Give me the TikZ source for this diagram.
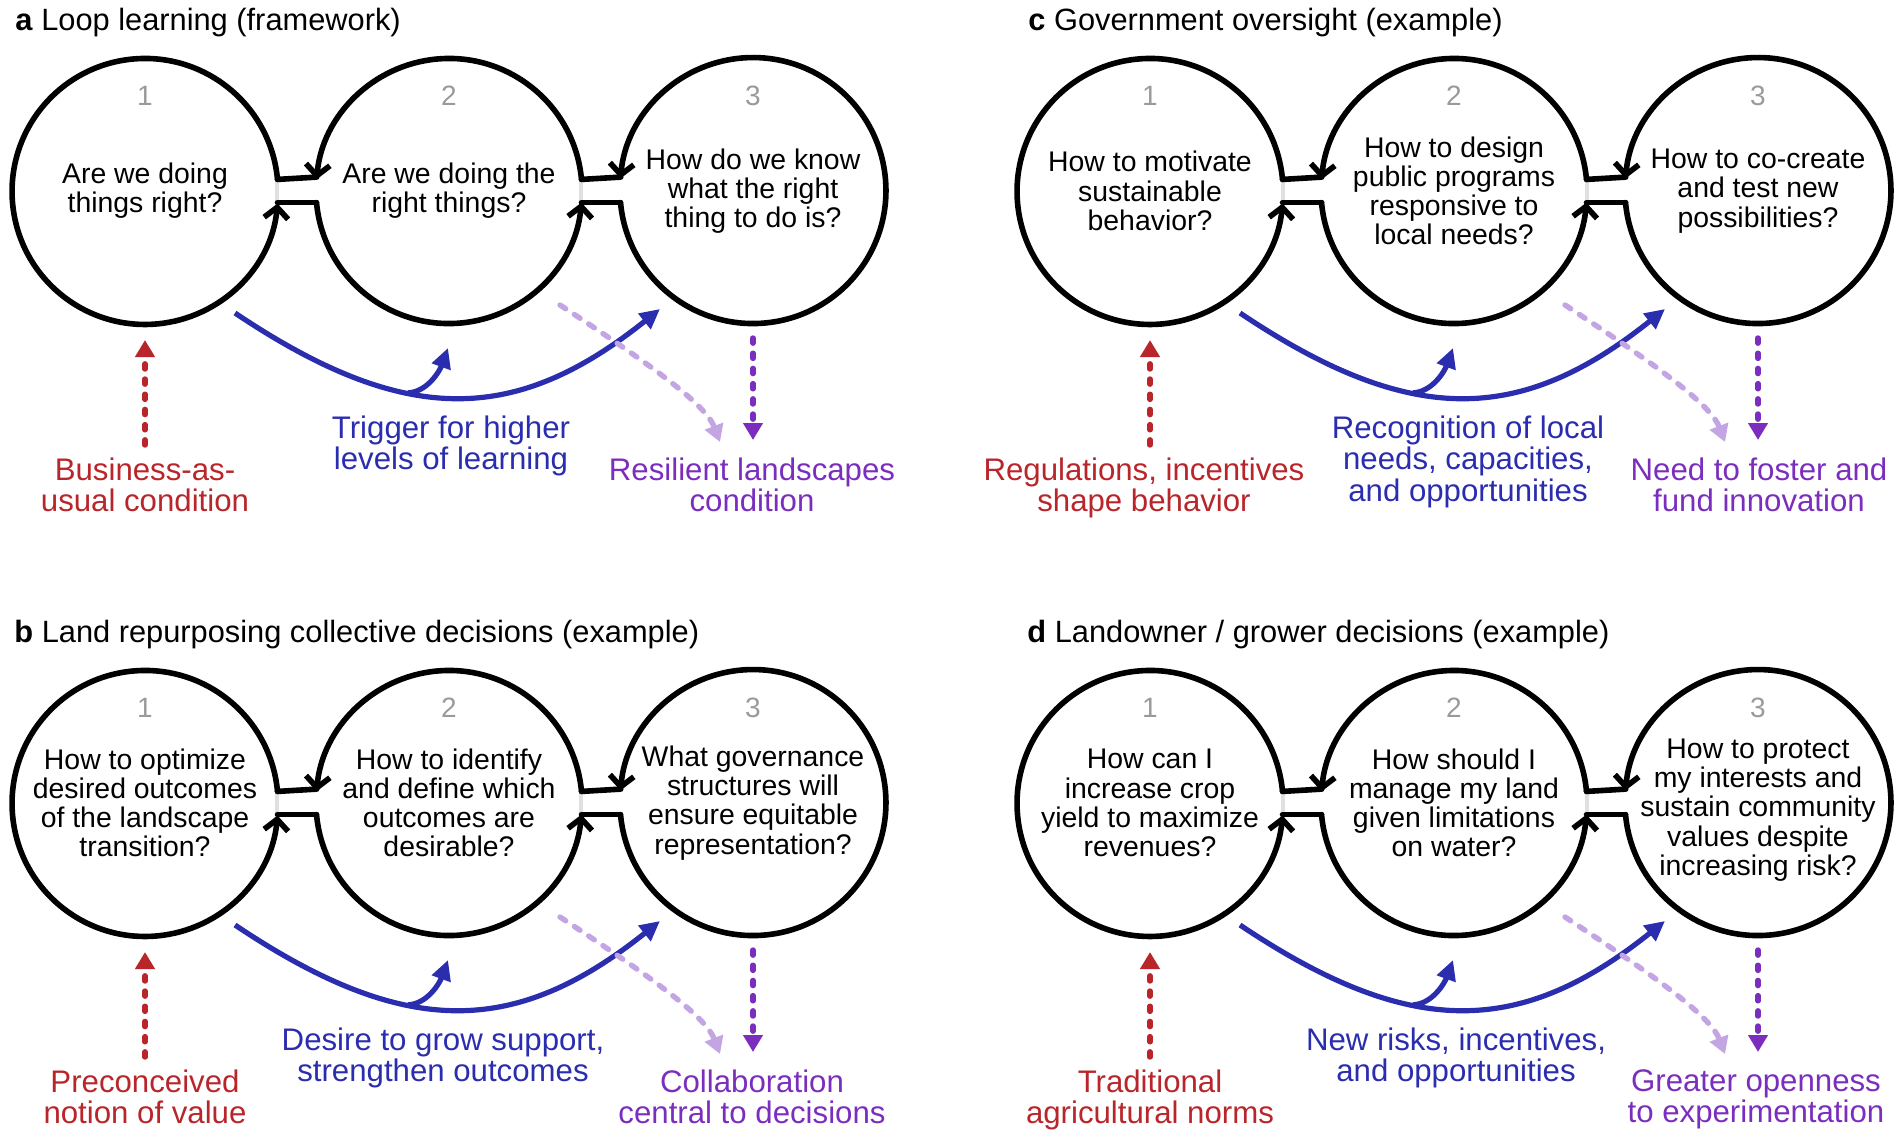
\documentclass[tikz,border=0pt]{standalone}
\usepackage{fontspec}
\setmainfont{Liberation Sans}
\usetikzlibrary{arrows.meta}

\definecolor{cuered}{HTML}{B8262B}
\definecolor{cueblue}{HTML}{2B2DAF}
\definecolor{cuepurple}{HTML}{7B2EBE}
\definecolor{cuelilac}{HTML}{C3A5E3}
\definecolor{numgray}{HTML}{9A9A9A}

\tikzset{
  ring/.style={circle, minimum size=133pt, inner sep=0pt, outer sep=0pt},
  ringline/.style={line width=2.8pt, black, line cap=round},
  necktip/.style={-{Straight Barb[length=5.5pt,width=12pt]}},
  gapline/.style={line width=2pt, black!12},
  stepnum/.style={text=numgray, font=\fontsize{14}{16}\selectfont, inner sep=0pt},
  question/.style={align=center, font=\fontsize{14.2}{14.6}\selectfont, inner sep=0pt},
  cue/.style={anchor=north, align=center, font=\fontsize{15.6}{15.8}\selectfont, inner sep=0pt},
  redlabel/.style={cue, text=cuered},
  bluelabel/.style={cue, text=cueblue},
  purplelabel/.style={cue, text=cuepurple},
  paneltitle/.style={anchor=west, font=\fontsize{15.4}{18}\selectfont, inner sep=0pt},
  trigger/.style={line width=2.6pt, cueblue, -{Triangle[length=10pt,width=9.5pt]}},
  dashcue/.style={line width=2.7pt, dash pattern=on 2.6pt off 5pt, line cap=round, -{Triangle[length=8.5pt,width=9.5pt]}},
}

% three linked rings, numbers and the blue / lilac arrows of one panel
\newcommand{\loopframe}[1]{%
  \node[ring] (#1-1) at (0,0) {};
  \node[ring] (#1-2) at (304,0) {};
  \node[ring] (#1-3) at (608,0) {};
  \foreach \i/\x in {1/0,2/304,3/608}
    \node[stepnum] (#1-n\i) at (\x,95) {\i};
  % light gaps at the necks
  \draw[gapline] (#1-1.5.2) -- (#1-1.-5.2);
  \draw[gapline] (#1-2.5.2) -- (#1-2.-5.2);
  % rings
  \draw[ringline,necktip] (#1-1.5.2) arc[start angle=5.2, end angle=354.8, radius=133];
  \draw[ringline,necktip] (#1-2.5.2) arc[start angle=5.2, end angle=174.8, radius=133];
  \draw[ringline,necktip] (#1-2.185.2) arc[start angle=185.2, end angle=354.8, radius=133];
  \draw[ringline,necktip] (#1-3.185.2) arc[start angle=185.2, end angle=534.8, radius=133];
  % necks
  \draw[ringline] (#1-1.5.2) -- (#1-2.174.8);
  \draw[ringline] (#1-1.-5.2) -- (#1-2.185.2);
  \draw[ringline] (#1-2.5.2) -- (#1-3.174.8);
  \draw[ringline] (#1-2.-5.2) -- (#1-3.185.2);
  % trigger arrows
  \coordinate (#1-bs) at (90,-122);
  \coordinate (#1-be) at (515,-118);
  \coordinate (#1-bt) at (303,-157);
  \draw[trigger] (#1-bs) .. controls (260,-236) and (370,-234) .. (#1-be)
    coordinate[pos=0.38] (#1-fork);
  \draw[trigger] (#1-fork) .. controls +(20,1) and +(-8,-22) .. (#1-bt);
  % lilac arrow
  \coordinate (#1-ls) at (415,-114);
  \coordinate (#1-le) at (575,-251);
  \draw[dashcue, cuelilac, dash pattern=on 3.4pt off 5.2pt] (#1-ls) .. controls (500,-170) and (560,-212) .. (#1-le);
}

% red and purple arrows to the labels
\newcommand{\loopcues}[1]{%
  \draw[dashcue, cuered, shorten <=6pt, shorten >=8pt] (#1-1.south |- #1-red.north) -- (#1-1.south);
  \draw[dashcue, cuepurple, shorten <=7pt, shorten >=8.5pt] (#1-3.south) -- (#1-3.south |- #1-purple.north);
}

\begin{document}
\begin{tikzpicture}[x=0.5pt,y=0.5pt]
\useasboundingbox (0,0) rectangle (1902,-1136);

%% a
\begin{scope}[shift={(145,-191)}]
  \loopframe{a}
  \node[paneltitle] (a-title) at (-130,168) {\textbf{a} Loop learning (framework)};
  \node[question] (a-q1) at (a-1) {Are we doing\\things right?};
  \node[question] (a-q2) at (a-2) {Are we doing the\\right things?};
  \node[question] (a-q3) at (a-3) {How do we know\\what the right\\thing to do is?};
  \node[redlabel] (a-red) at (0,-266) {Business-as-\\usual condition};
  \node[bluelabel] (a-blue) at (306,-224) {Trigger for higher\\levels of learning};
  \node[purplelabel] (a-purple) at (607,-266) {Resilient landscapes\\condition};
  \loopcues{a}
\end{scope}

%% b
\begin{scope}[shift={(145,-803)}]
  \loopframe{b}
  \node[paneltitle] (b-title) at (-131,168) {\textbf{b} Land repurposing collective decisions (example)};
  \node[question] (b-q1) at (b-1) {How to optimize\\desired outcomes\\of the landscape\\transition?};
  \node[question] (b-q2) at (b-2) {How to identify\\and define which\\outcomes are\\desirable?};
  \node[question] (b-q3) at (b-3) {What governance\\structures will\\ensure equitable\\representation?};
  \node[redlabel] (b-red) at (0,-266) {Preconceived\\notion of value};
  \node[bluelabel] (b-blue) at (298,-224) {Desire to grow support,\\strengthen outcomes};
  \node[purplelabel] (b-purple) at (607,-266) {Collaboration\\central to decisions};
  \loopcues{b}
\end{scope}

%% c
\begin{scope}[shift={(1150,-191)}]
  \loopframe{c}
  \node[paneltitle] (c-title) at (-122,168) {\textbf{c} Government oversight (example)};
  \node[question] (c-q1) at (c-1) {How to motivate\\sustainable\\behavior?};
  \node[question] (c-q2) at (c-2) {How to design\\public programs\\responsive to\\local needs?};
  \node[question] (c-q3) at (c-3) {How to co-create\\and test new\\possibilities?};
  \node[redlabel] (c-red) at (-6,-266) {Regulations, incentives\\shape behavior};
  \node[bluelabel] (c-blue) at (318,-224) {Recognition of local\\needs, capacities,\\and opportunities};
  \node[purplelabel] (c-purple) at (609,-266) {Need to foster and\\fund innovation};
  \loopcues{c}
\end{scope}

%% d
\begin{scope}[shift={(1150,-803)}]
  \loopframe{d}
  \node[paneltitle] (d-title) at (-123,168) {\textbf{d} Landowner / grower decisions (example)};
  \node[question] (d-q1) at (d-1) {How can I\\increase crop\\yield to maximize\\revenues?};
  \node[question] (d-q2) at (d-2) {How should I\\manage my land\\given limitations\\on water?};
  \node[question] (d-q3) at ([yshift=-3.5pt]d-3.center) {How to protect\\my interests and\\sustain community\\values despite\\increasing risk?};
  \node[redlabel] (d-red) at (0,-266) {Traditional\\agricultural norms};
  \node[bluelabel] (d-blue) at (306,-224) {New risks, incentives,\\and opportunities};
  \node[purplelabel] (d-purple) at (606,-266) {Greater openness\\to experimentation};
  \loopcues{d}
\end{scope}

\end{tikzpicture}
\end{document}
